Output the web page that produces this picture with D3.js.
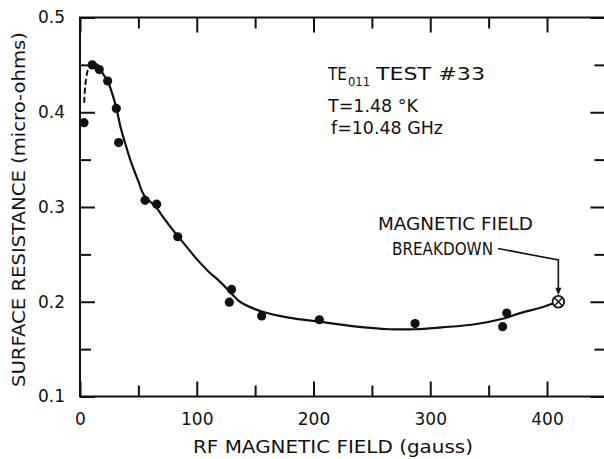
<!DOCTYPE html>
<html>
<head>
<meta charset="utf-8">
<script src="https://cdn.jsdelivr.net/npm/d3@7"></script>
<style>
  html, body { margin: 0; padding: 0; background: #fff; }
  svg { display: block; }
  text { font-family: "DejaVu Sans", sans-serif; fill: #111; }
</style>
</head>
<body>
<script>
// ---- data ----
const measuredField = [3.4, 10.5, 16.5, 23.7, 31.1, 33.1, 55.7, 65.7, 83.7, 129.8, 127.9, 155.6, 205, 287, 362, 365.5];
const measuredResistance = [0.389, 0.450, 0.445, 0.433, 0.404, 0.368, 0.307, 0.303, 0.2686, 0.213, 0.1995, 0.185, 0.181, 0.177, 0.1737, 0.188];

const curveField = [10.5, 15, 20, 23.7, 27, 31, 35, 40, 43, 50, 55, 65, 72, 80, 90, 100, 110, 120, 131, 137, 155, 180, 205, 235, 265, 287, 310, 337, 362, 377, 395, 409.7];
const curveResistance = [0.452, 0.450, 0.440, 0.433, 0.422, 0.405, 0.383, 0.362, 0.350, 0.327, 0.312, 0.300, 0.288, 0.275, 0.260, 0.245, 0.232, 0.221, 0.207, 0.200, 0.190, 0.183, 0.179, 0.174, 0.171, 0.171, 0.173, 0.176, 0.182, 0.188, 0.194, 0.200];

const dashedField = [3.6, 4.5, 6, 8, 10.5];
const dashedResistance = [0.410, 0.428, 0.441, 0.449, 0.452];

const breakdownField = [409.7];
const breakdownResistance = [0.200];

const xMajorTicks = [0, 100, 200, 300, 400];
const xMinorTicks = [50, 150, 250, 350];
const yMajorTicks = [0.1, 0.2, 0.3, 0.4, 0.5];
const yMinorTicks = [0.15, 0.25, 0.35, 0.45];
const yTickLabels = ["0.1", "0.2", "0.3", "0.4", "0.5"];

// ---- layout ----
const W = 604, H = 459;
const svg = d3.select("body").append("svg").attr("width", W).attr("height", H);

const x = d3.scaleLinear().domain([0, 450]).range([80, 605.4]);
const y = d3.scaleLinear().domain([0.1, 0.5]).range([396.5, 17.5]);

const ink = "#111";

// frame
svg.append("rect")
  .attr("x", x(0)).attr("y", y(0.5))
  .attr("width", x(450) - x(0)).attr("height", y(0.1) - y(0.5))
  .attr("fill", "none").attr("stroke", ink).attr("stroke-width", 2);

function styleAxis(g) {
  g.select(".domain").remove();
  g.selectAll(".tick line").attr("stroke", ink).attr("stroke-width", 2);
  g.selectAll(".tick text").attr("fill", ink).style("font-family", "DejaVu Sans").style("font-size", "17px");
}

// bottom axis
svg.append("g").attr("transform", `translate(0,${y(0.1)})`)
  .call(d3.axisBottom(x).tickValues(xMajorTicks).tickSizeInner(-15).tickSizeOuter(0).tickPadding(16).tickFormat(d3.format("d")))
  .call(styleAxis);
svg.append("g").attr("transform", `translate(0,${y(0.1)})`)
  .call(d3.axisBottom(x).tickValues(xMinorTicks).tickSizeInner(-11).tickSizeOuter(0).tickFormat(""))
  .call(styleAxis);
// top axis
svg.append("g").attr("transform", `translate(0,${y(0.5)})`)
  .call(d3.axisTop(x).tickValues(xMajorTicks).tickSizeInner(-15).tickSizeOuter(0).tickFormat(""))
  .call(styleAxis);
svg.append("g").attr("transform", `translate(0,${y(0.5)})`)
  .call(d3.axisTop(x).tickValues(xMinorTicks).tickSizeInner(-11).tickSizeOuter(0).tickFormat(""))
  .call(styleAxis);
// left axis
svg.append("g").attr("transform", `translate(${x(0)},0)`)
  .call(d3.axisLeft(y).tickValues(yMajorTicks).tickSizeInner(-15).tickSizeOuter(0).tickPadding(15)
        .tickFormat((d, i) => yTickLabels[i]))
  .call(styleAxis);
svg.append("g").attr("transform", `translate(${x(0)},0)`)
  .call(d3.axisLeft(y).tickValues(yMinorTicks).tickSizeInner(-11).tickSizeOuter(0).tickFormat(""))
  .call(styleAxis);
// right axis
svg.append("g").attr("transform", `translate(${x(450)},0)`)
  .call(d3.axisRight(y).tickValues(yMajorTicks).tickSizeInner(-15).tickSizeOuter(0).tickFormat(""))
  .call(styleAxis);
svg.append("g").attr("transform", `translate(${x(450)},0)`)
  .call(d3.axisRight(y).tickValues(yMinorTicks).tickSizeInner(-11).tickSizeOuter(0).tickFormat(""))
  .call(styleAxis);

// axis titles
svg.append("text")
  .attr("x", 333).attr("y", 453)
  .attr("text-anchor", "middle")
  .attr("textLength", 280).attr("lengthAdjust", "spacingAndGlyphs")
  .style("font-size", "17px")
  .text("RF MAGNETIC FIELD (gauss)");

svg.append("text")
  .attr("transform", "translate(25,209.5) rotate(-90)")
  .attr("text-anchor", "middle")
  .attr("textLength", 355).attr("lengthAdjust", "spacingAndGlyphs")
  .style("font-size", "17px")
  .text("SURFACE RESISTANCE (micro-ohms)");

// fitted curve
const curvePts = curveField.map((f, i) => [f, curveResistance[i]]);
const dashPts = dashedField.map((f, i) => [f, dashedResistance[i]]);
const line = d3.line().x(d => x(d[0])).y(d => y(d[1])).curve(d3.curveCatmullRom.alpha(0.5));

svg.append("path").datum(curvePts)
  .attr("d", line).attr("fill", "none").attr("stroke", ink).attr("stroke-width", 2.2);
svg.append("path").datum(dashPts)
  .attr("d", line).attr("fill", "none").attr("stroke", ink).attr("stroke-width", 2)
  .attr("stroke-dasharray", "6,3");

// measured points
svg.append("g").selectAll("circle")
  .data(measuredField.map((f, i) => [f, measuredResistance[i]]))
  .join("circle")
  .attr("cx", d => x(d[0])).attr("cy", d => y(d[1])).attr("r", 4.6)
  .attr("fill", ink);

// breakdown marker (circle with cross)
const bk = svg.append("g").selectAll("g")
  .data(breakdownField.map((f, i) => [f, breakdownResistance[i]]))
  .join("g")
  .attr("transform", d => `translate(${x(d[0])},${y(d[1])})`);
bk.append("circle").attr("r", 5.8).attr("fill", "#fff").attr("stroke", ink).attr("stroke-width", 1.8);
bk.append("line").attr("x1", -4).attr("y1", -4).attr("x2", 4).attr("y2", 4).attr("stroke", ink).attr("stroke-width", 1.5);
bk.append("line").attr("x1", -4).attr("y1", 4).attr("x2", 4).attr("y2", -4).attr("stroke", ink).attr("stroke-width", 1.5);

// leader line with arrow to breakdown
const bx = x(breakdownField[0]), by = y(breakdownResistance[0]);
svg.append("path")
  .attr("d", `M498,248.5 L${bx},260 L${bx},${by - 12}`)
  .attr("fill", "none").attr("stroke", ink).attr("stroke-width", 1.6);
svg.append("path")
  .attr("d", `M${bx - 3},${by - 14} L${bx + 3},${by - 14} L${bx},${by - 6.5} Z`)
  .attr("fill", ink);

// annotations
function label(txt, x0, y0, len, size) {
  return svg.append("text").attr("x", x0).attr("y", y0).style("font-size", size + "px")
    .attr("textLength", len).attr("lengthAdjust", "spacingAndGlyphs").text(txt);
}
label("TE", 328, 80, 19, 18);
label("011", 348, 86, 22, 13);
label("TEST #33", 376, 80, 109, 18);
label("T=1.48 °K", 328, 111.5, 90, 18);
label("f=10.48 GHz", 331, 134, 112, 18);
label("MAGNETIC FIELD", 378, 230, 155, 18);
label("BREAKDOWN", 392, 255, 101, 18);
</script>
</body>
</html>
